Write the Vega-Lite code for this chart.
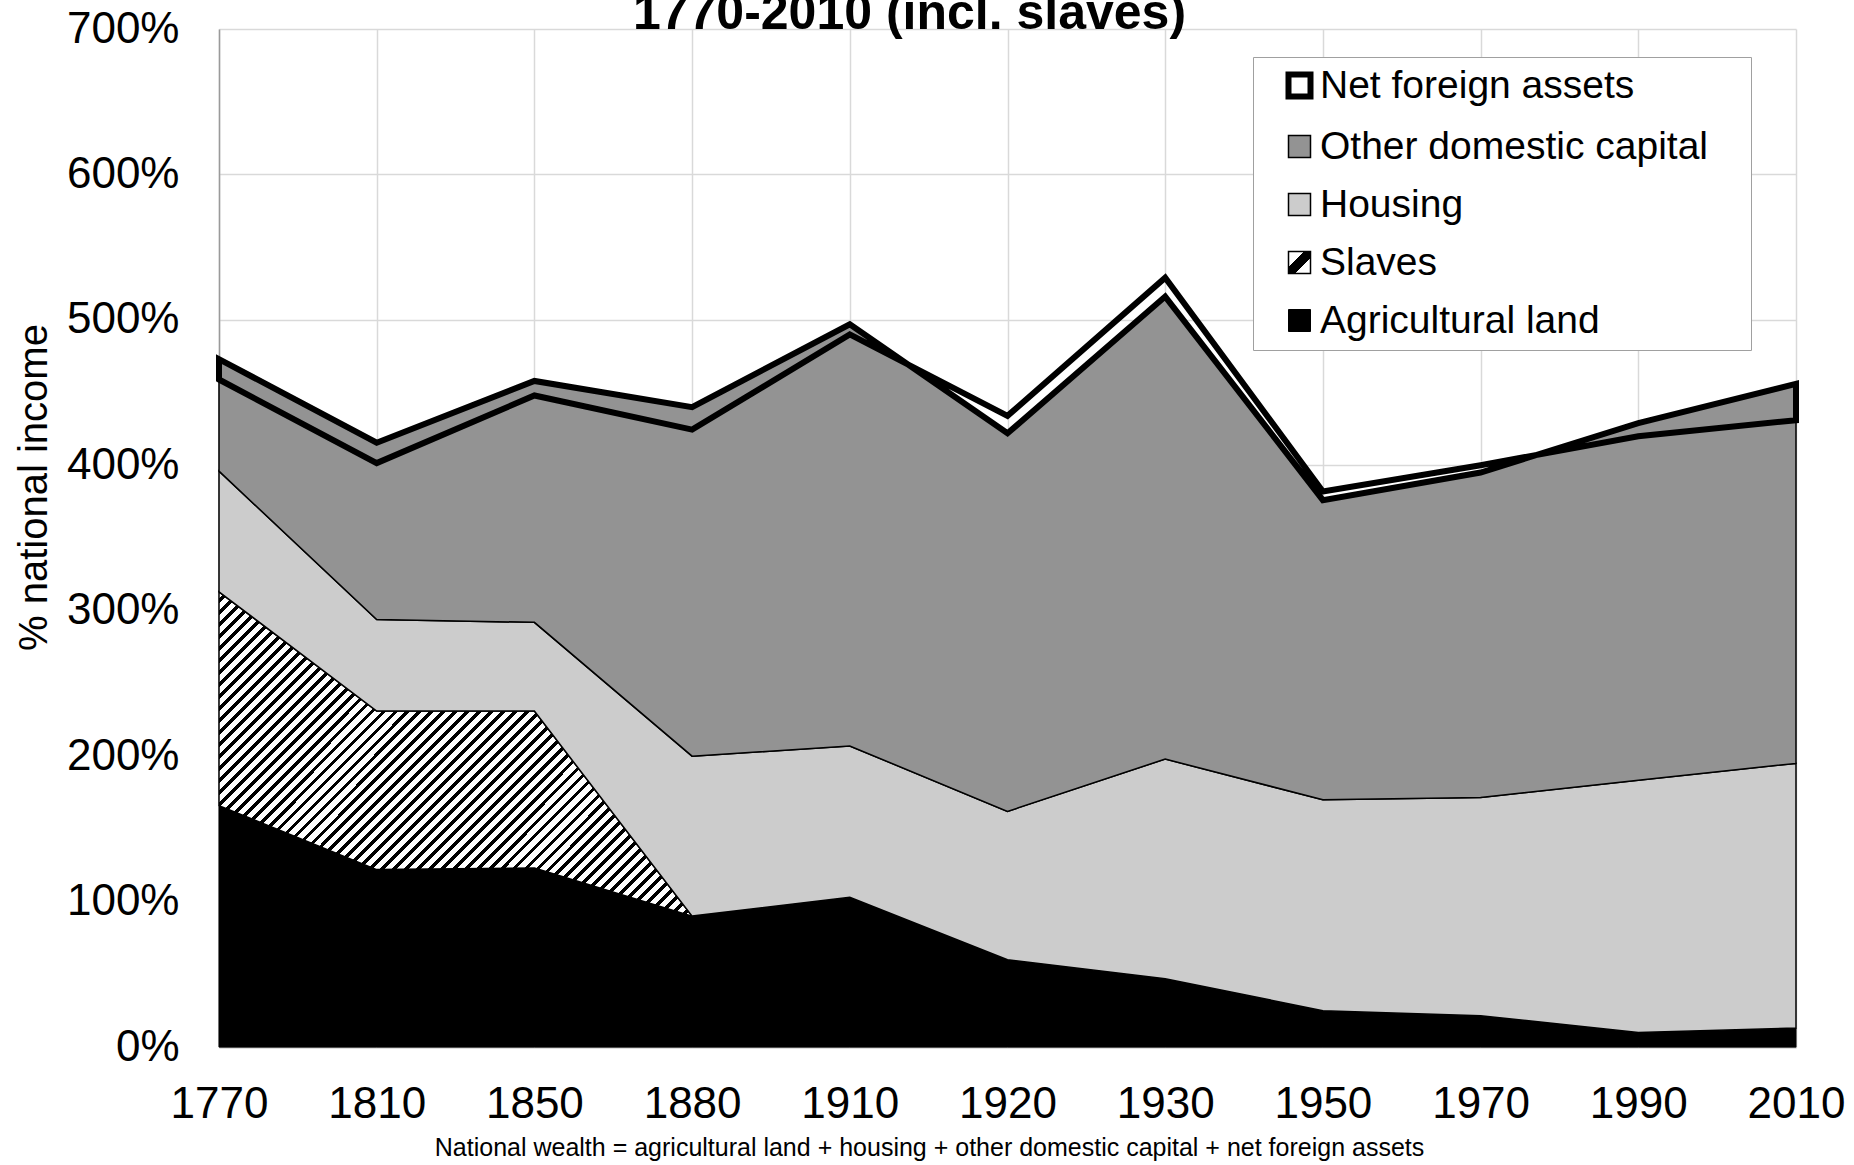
{
  "$schema": "https://vega.github.io/schema/vega-lite/v6.json",
  "width": 1577,
  "height": 1018,
  "autosize": {"type": "none"},
  "padding": {"left": 219, "top": 29, "right": 58, "bottom": 118},
  "background": "white",
  "title": {
    "text": "1770-2010 (incl. slaves)",
    "font": "Liberation Sans",
    "fontSize": 50,
    "fontWeight": "bold",
    "color": "black",
    "anchor": "middle",
    "baseline": "alphabetic",
    "offset": -72,
    "dx": -98
  },
  "config": {
    "view": {"stroke": null},
    "font": "Liberation Sans"
  },
  "data": {
    "values": [
      {"year": "1770", "series": "Agricultural land", "value": 166},
      {"year": "1770", "series": "Slaves", "value": 147},
      {"year": "1770", "series": "Housing", "value": 83},
      {"year": "1770", "series": "Other domestic capital", "value": 77},
      {"year": "1770", "series": "Net foreign assets", "value": -14},
      {"year": "1810", "series": "Agricultural land", "value": 122},
      {"year": "1810", "series": "Slaves", "value": 109},
      {"year": "1810", "series": "Housing", "value": 63},
      {"year": "1810", "series": "Other domestic capital", "value": 121.5},
      {"year": "1810", "series": "Net foreign assets", "value": -14},
      {"year": "1850", "series": "Agricultural land", "value": 123},
      {"year": "1850", "series": "Slaves", "value": 108},
      {"year": "1850", "series": "Housing", "value": 61},
      {"year": "1850", "series": "Other domestic capital", "value": 166},
      {"year": "1850", "series": "Net foreign assets", "value": -10},
      {"year": "1880", "series": "Agricultural land", "value": 90},
      {"year": "1880", "series": "Slaves", "value": 0},
      {"year": "1880", "series": "Housing", "value": 110},
      {"year": "1880", "series": "Other domestic capital", "value": 240},
      {"year": "1880", "series": "Net foreign assets", "value": -15.5},
      {"year": "1910", "series": "Agricultural land", "value": 103},
      {"year": "1910", "series": "Housing", "value": 104},
      {"year": "1910", "series": "Other domestic capital", "value": 290},
      {"year": "1910", "series": "Net foreign assets", "value": -7},
      {"year": "1920", "series": "Agricultural land", "value": 60},
      {"year": "1920", "series": "Housing", "value": 102},
      {"year": "1920", "series": "Other domestic capital", "value": 260},
      {"year": "1920", "series": "Net foreign assets", "value": 12},
      {"year": "1930", "series": "Agricultural land", "value": 47},
      {"year": "1930", "series": "Housing", "value": 151},
      {"year": "1930", "series": "Other domestic capital", "value": 318},
      {"year": "1930", "series": "Net foreign assets", "value": 13},
      {"year": "1950", "series": "Agricultural land", "value": 25},
      {"year": "1950", "series": "Housing", "value": 145},
      {"year": "1950", "series": "Other domestic capital", "value": 206},
      {"year": "1950", "series": "Net foreign assets", "value": 6},
      {"year": "1970", "series": "Agricultural land", "value": 21.5},
      {"year": "1970", "series": "Housing", "value": 150},
      {"year": "1970", "series": "Other domestic capital", "value": 223.5},
      {"year": "1970", "series": "Net foreign assets", "value": 5},
      {"year": "1990", "series": "Agricultural land", "value": 10},
      {"year": "1990", "series": "Housing", "value": 173.5},
      {"year": "1990", "series": "Other domestic capital", "value": 245.5},
      {"year": "1990", "series": "Net foreign assets", "value": -9},
      {"year": "2010", "series": "Agricultural land", "value": 13},
      {"year": "2010", "series": "Housing", "value": 182},
      {"year": "2010", "series": "Other domestic capital", "value": 261},
      {"year": "2010", "series": "Net foreign assets", "value": -25}
    ]
  },
  "transform": [
    {"window": [{"op": "sum", "field": "value", "as": "top"}], "groupby": ["year"], "frame": [null, 0]},
    {"window": [{"op": "sum", "field": "value", "as": "base"}], "groupby": ["year"], "frame": [null, -1]}
  ],
  "encoding": {
    "x": {
      "field": "year",
      "type": "ordinal",
      "scale": {"type": "point", "padding": 0},
      "axis": {
        "title": "National wealth = agricultural land + housing + other domestic capital + net foreign assets",
        "titleFont": "Liberation Sans",
        "titleFontSize": 25,
        "titleFontWeight": "normal",
        "titleColor": "black",
        "titleX": 710,
        "titleY": 108,
        "titleAlign": "center",
        "titleBaseline": "alphabetic",
        "labelAngle": 0,
        "labelFont": "Liberation Sans",
        "labelFontSize": 44,
        "labelColor": "black",
        "labelBaseline": "alphabetic",
        "labelPadding": 70,
        "ticks": false,
        "tickSize": 0,
        "grid": true,
        "gridColor": "#d9d9d9",
        "gridWidth": 1.5,
        "domainColor": "#9a9a9a",
        "domainWidth": 1.5
      }
    },
    "y": {
      "field": "top",
      "type": "quantitative",
      "stack": null,
      "scale": {"domain": [0, 700], "nice": false},
      "axis": {
        "values": [0, 100, 200, 300, 400, 500, 600, 700],
        "labelExpr": "datum.value + '%'",
        "labelFont": "Liberation Sans",
        "labelFontSize": 44,
        "labelColor": "black",
        "labelPadding": 40,
        "ticks": false,
        "tickSize": 0,
        "grid": true,
        "gridColor": "#d9d9d9",
        "gridWidth": 1.5,
        "domainColor": "#9a9a9a",
        "domainWidth": 1.5,
        "title": "% national income",
        "titleFont": "Liberation Sans",
        "titleFontSize": 40,
        "titleFontWeight": "normal",
        "titleColor": "black",
        "titleAngle": -90,
        "titleX": -173,
        "titleY": 458,
        "titleAlign": "center",
        "titleBaseline": "alphabetic"
      }
    },
    "fill": {
      "field": "series",
      "type": "nominal",
      "scale": {
        "domain": ["Net foreign assets", "Other domestic capital", "Housing", "Slaves", "Agricultural land"],
        "range": ["transparent", "#939393", "#cccccc", {"expr": "{gradient: 'linear', x1: 0, y1: 0, x2: 1, y2: 1, stops: [{offset: 0, color: '#fff'}, {offset: 0.36, color: '#fff'}, {offset: 0.36, color: '#000'}, {offset: 0.64, color: '#000'}, {offset: 0.64, color: '#fff'}, {offset: 1, color: '#fff'}]}"}, "#000000"]
      },
      "legend": {
        "title": " ",
        "titleOrient": "right",
        "titlePadding": 34,
        "titleFontSize": 39,
        "orient": "none",
        "legendX": 1034,
        "legendY": 28,
        "padding": 9,
        "symbolOffset": 18,
        "rowPadding": 18,
        "symbolType": "square",
        "symbolSize": 484,
        "labelFont": "Liberation Sans",
        "labelFontSize": 39,
        "labelColor": "black",
        "labelOffset": 1,
        "labelLimit": 0,
        "strokeColor": "#a0a0a0",
        "fillColor": "white"
      }
    },
    "stroke": {
      "field": "series",
      "type": "nominal",
      "scale": {
        "domain": ["Net foreign assets", "Other domestic capital", "Housing", "Slaves", "Agricultural land"],
        "range": ["#000000", "#000000", "#000000", "#000000", "#000000"]
      },
      "legend": {
        "title": " ",
        "orient": "none"
      }
    },
    "strokeWidth": {
      "field": "series",
      "type": "nominal",
      "scale": {
        "type": "ordinal",
        "domain": ["Net foreign assets", "Other domestic capital", "Housing", "Slaves", "Agricultural land"],
        "range": [6, 1.5, 1.5, 1.5, 1]
      },
      "legend": {
        "title": " ",
        "orient": "none"
      }
    }
  },
  "layer": [
    {
      "transform": [{"filter": "datum.series === 'Agricultural land'"}],
      "mark": {"type": "area"}
    },
    {
      "transform": [{"filter": "datum.series === 'Slaves'"}],
      "mark": {"type": "area"},
      "encoding": {
        "y2": {"field": "base"},
        "fill": {"value": {"gradient": "linear", "x1": 0, "y1": 0, "x2": 1.147, "y2": 0.785, "stops": [
{"offset":0,"color":"#fff"},{"offset":0.009,"color":"#fff"},{"offset":0.009,"color":"#000"},{"offset":0.015,"color":"#000"},
{"offset":0.015,"color":"#fff"},{"offset":0.024,"color":"#fff"},{"offset":0.024,"color":"#000"},{"offset":0.03,"color":"#000"},
{"offset":0.03,"color":"#fff"},{"offset":0.039,"color":"#fff"},{"offset":0.039,"color":"#000"},{"offset":0.045,"color":"#000"},
{"offset":0.045,"color":"#fff"},{"offset":0.054,"color":"#fff"},{"offset":0.054,"color":"#000"},{"offset":0.06,"color":"#000"},
{"offset":0.06,"color":"#fff"},{"offset":0.069,"color":"#fff"},{"offset":0.069,"color":"#000"},{"offset":0.075,"color":"#000"},
{"offset":0.075,"color":"#fff"},{"offset":0.084,"color":"#fff"},{"offset":0.084,"color":"#000"},{"offset":0.09,"color":"#000"},
{"offset":0.09,"color":"#fff"},{"offset":0.099,"color":"#fff"},{"offset":0.099,"color":"#000"},{"offset":0.105,"color":"#000"},
{"offset":0.105,"color":"#fff"},{"offset":0.114,"color":"#fff"},{"offset":0.114,"color":"#000"},{"offset":0.12,"color":"#000"},
{"offset":0.12,"color":"#fff"},{"offset":0.129,"color":"#fff"},{"offset":0.129,"color":"#000"},{"offset":0.135,"color":"#000"},
{"offset":0.135,"color":"#fff"},{"offset":0.144,"color":"#fff"},{"offset":0.144,"color":"#000"},{"offset":0.15,"color":"#000"},
{"offset":0.15,"color":"#fff"},{"offset":0.159,"color":"#fff"},{"offset":0.159,"color":"#000"},{"offset":0.165,"color":"#000"},
{"offset":0.165,"color":"#fff"},{"offset":0.174,"color":"#fff"},{"offset":0.174,"color":"#000"},{"offset":0.18,"color":"#000"},
{"offset":0.18,"color":"#fff"},{"offset":0.189,"color":"#fff"},{"offset":0.189,"color":"#000"},{"offset":0.195,"color":"#000"},
{"offset":0.195,"color":"#fff"},{"offset":0.204,"color":"#fff"},{"offset":0.204,"color":"#000"},{"offset":0.21,"color":"#000"},
{"offset":0.21,"color":"#fff"},{"offset":0.219,"color":"#fff"},{"offset":0.219,"color":"#000"},{"offset":0.225,"color":"#000"},
{"offset":0.225,"color":"#fff"},{"offset":0.234,"color":"#fff"},{"offset":0.234,"color":"#000"},{"offset":0.24,"color":"#000"},
{"offset":0.24,"color":"#fff"},{"offset":0.249,"color":"#fff"},{"offset":0.249,"color":"#000"},{"offset":0.255,"color":"#000"},
{"offset":0.255,"color":"#fff"},{"offset":0.264,"color":"#fff"},{"offset":0.264,"color":"#000"},{"offset":0.27,"color":"#000"},
{"offset":0.27,"color":"#fff"},{"offset":0.279,"color":"#fff"},{"offset":0.279,"color":"#000"},{"offset":0.285,"color":"#000"},
{"offset":0.285,"color":"#fff"},{"offset":0.294,"color":"#fff"},{"offset":0.294,"color":"#000"},{"offset":0.3,"color":"#000"},
{"offset":0.3,"color":"#fff"},{"offset":0.309,"color":"#fff"},{"offset":0.309,"color":"#000"},{"offset":0.315,"color":"#000"},
{"offset":0.315,"color":"#fff"},{"offset":0.324,"color":"#fff"},{"offset":0.324,"color":"#000"},{"offset":0.33,"color":"#000"},
{"offset":0.33,"color":"#fff"},{"offset":0.339,"color":"#fff"},{"offset":0.339,"color":"#000"},{"offset":0.345,"color":"#000"},
{"offset":0.345,"color":"#fff"},{"offset":0.354,"color":"#fff"},{"offset":0.354,"color":"#000"},{"offset":0.36,"color":"#000"},
{"offset":0.36,"color":"#fff"},{"offset":0.369,"color":"#fff"},{"offset":0.369,"color":"#000"},{"offset":0.375,"color":"#000"},
{"offset":0.375,"color":"#fff"},{"offset":0.384,"color":"#fff"},{"offset":0.384,"color":"#000"},{"offset":0.39,"color":"#000"},
{"offset":0.39,"color":"#fff"},{"offset":0.399,"color":"#fff"},{"offset":0.399,"color":"#000"},{"offset":0.405,"color":"#000"},
{"offset":0.405,"color":"#fff"},{"offset":0.414,"color":"#fff"},{"offset":0.414,"color":"#000"},{"offset":0.42,"color":"#000"},
{"offset":0.42,"color":"#fff"},{"offset":0.429,"color":"#fff"},{"offset":0.429,"color":"#000"},{"offset":0.435,"color":"#000"},
{"offset":0.435,"color":"#fff"},{"offset":0.444,"color":"#fff"},{"offset":0.444,"color":"#000"},{"offset":0.45,"color":"#000"},
{"offset":0.45,"color":"#fff"},{"offset":0.459,"color":"#fff"},{"offset":0.459,"color":"#000"},{"offset":0.465,"color":"#000"},
{"offset":0.465,"color":"#fff"},{"offset":0.474,"color":"#fff"},{"offset":0.474,"color":"#000"},{"offset":0.48,"color":"#000"},
{"offset":0.48,"color":"#fff"},{"offset":0.489,"color":"#fff"},{"offset":0.489,"color":"#000"},{"offset":0.495,"color":"#000"},
{"offset":0.495,"color":"#fff"},{"offset":0.504,"color":"#fff"},{"offset":0.504,"color":"#000"},{"offset":0.51,"color":"#000"},
{"offset":0.51,"color":"#fff"},{"offset":0.519,"color":"#fff"},{"offset":0.519,"color":"#000"},{"offset":0.525,"color":"#000"},
{"offset":0.525,"color":"#fff"},{"offset":0.534,"color":"#fff"},{"offset":0.534,"color":"#000"},{"offset":0.54,"color":"#000"},
{"offset":0.54,"color":"#fff"},{"offset":0.549,"color":"#fff"},{"offset":0.549,"color":"#000"},{"offset":0.555,"color":"#000"},
{"offset":0.555,"color":"#fff"},{"offset":0.564,"color":"#fff"},{"offset":0.564,"color":"#000"},{"offset":0.57,"color":"#000"},
{"offset":0.57,"color":"#fff"},{"offset":0.579,"color":"#fff"},{"offset":0.579,"color":"#000"},{"offset":0.585,"color":"#000"},
{"offset":0.585,"color":"#fff"},{"offset":0.594,"color":"#fff"},{"offset":0.594,"color":"#000"},{"offset":0.6,"color":"#000"},
{"offset":0.6,"color":"#fff"},{"offset":0.609,"color":"#fff"},{"offset":0.609,"color":"#000"},{"offset":0.615,"color":"#000"},
{"offset":0.615,"color":"#fff"},{"offset":0.624,"color":"#fff"},{"offset":0.624,"color":"#000"},{"offset":0.63,"color":"#000"},
{"offset":0.63,"color":"#fff"},{"offset":0.639,"color":"#fff"},{"offset":0.639,"color":"#000"},{"offset":0.645,"color":"#000"},
{"offset":0.645,"color":"#fff"},{"offset":0.654,"color":"#fff"},{"offset":0.654,"color":"#000"},{"offset":0.66,"color":"#000"},
{"offset":0.66,"color":"#fff"},{"offset":0.669,"color":"#fff"},{"offset":0.669,"color":"#000"},{"offset":0.675,"color":"#000"},
{"offset":0.675,"color":"#fff"},{"offset":0.684,"color":"#fff"},{"offset":0.684,"color":"#000"},{"offset":0.69,"color":"#000"},
{"offset":0.69,"color":"#fff"},{"offset":0.699,"color":"#fff"},{"offset":0.699,"color":"#000"},{"offset":0.705,"color":"#000"},
{"offset":0.705,"color":"#fff"},{"offset":0.714,"color":"#fff"},{"offset":0.714,"color":"#000"},{"offset":0.72,"color":"#000"},
{"offset":0.72,"color":"#fff"},{"offset":0.729,"color":"#fff"},{"offset":0.729,"color":"#000"},{"offset":0.735,"color":"#000"},
{"offset":0.735,"color":"#fff"},{"offset":0.744,"color":"#fff"},{"offset":0.744,"color":"#000"},{"offset":0.75,"color":"#000"},
{"offset":0.75,"color":"#fff"},{"offset":0.759,"color":"#fff"},{"offset":0.759,"color":"#000"},{"offset":0.765,"color":"#000"},
{"offset":0.765,"color":"#fff"},{"offset":0.774,"color":"#fff"},{"offset":0.774,"color":"#000"},{"offset":0.78,"color":"#000"},
{"offset":0.78,"color":"#fff"},{"offset":0.789,"color":"#fff"},{"offset":0.789,"color":"#000"},{"offset":0.795,"color":"#000"},
{"offset":0.795,"color":"#fff"},{"offset":0.804,"color":"#fff"},{"offset":0.804,"color":"#000"},{"offset":0.81,"color":"#000"},
{"offset":0.81,"color":"#fff"},{"offset":0.819,"color":"#fff"},{"offset":0.819,"color":"#000"},{"offset":0.825,"color":"#000"},
{"offset":0.825,"color":"#fff"},{"offset":0.834,"color":"#fff"},{"offset":0.834,"color":"#000"},{"offset":0.84,"color":"#000"},
{"offset":0.84,"color":"#fff"},{"offset":0.849,"color":"#fff"},{"offset":0.849,"color":"#000"},{"offset":0.855,"color":"#000"},
{"offset":0.855,"color":"#fff"},{"offset":0.864,"color":"#fff"},{"offset":0.864,"color":"#000"},{"offset":0.87,"color":"#000"},
{"offset":0.87,"color":"#fff"},{"offset":0.879,"color":"#fff"},{"offset":0.879,"color":"#000"},{"offset":0.885,"color":"#000"},
{"offset":0.885,"color":"#fff"},{"offset":0.894,"color":"#fff"},{"offset":0.894,"color":"#000"},{"offset":0.9,"color":"#000"},
{"offset":0.9,"color":"#fff"},{"offset":0.909,"color":"#fff"},{"offset":0.909,"color":"#000"},{"offset":0.915,"color":"#000"},
{"offset":0.915,"color":"#fff"},{"offset":0.924,"color":"#fff"},{"offset":0.924,"color":"#000"},{"offset":0.93,"color":"#000"},
{"offset":0.93,"color":"#fff"},{"offset":0.939,"color":"#fff"},{"offset":0.939,"color":"#000"},{"offset":0.945,"color":"#000"},
{"offset":0.945,"color":"#fff"},{"offset":0.954,"color":"#fff"},{"offset":0.954,"color":"#000"},{"offset":0.96,"color":"#000"},
{"offset":0.96,"color":"#fff"},{"offset":0.969,"color":"#fff"},{"offset":0.969,"color":"#000"},{"offset":0.975,"color":"#000"},
{"offset":0.975,"color":"#fff"},{"offset":0.984,"color":"#fff"},{"offset":0.984,"color":"#000"},{"offset":0.99,"color":"#000"},
{"offset":0.99,"color":"#fff"},{"offset":0.999,"color":"#fff"},{"offset":0.999,"color":"#000"},{"offset":1,"color":"#000"}
        ]}}
      }
    },
    {
      "transform": [{"filter": "datum.series === 'Housing'"}],
      "mark": {"type": "area"},
      "encoding": {"y2": {"field": "base"}}
    },
    {
      "transform": [{"filter": "datum.series === 'Other domestic capital'"}],
      "mark": {"type": "area"},
      "encoding": {"y2": {"field": "base"}}
    },
    {
      "transform": [{"filter": "datum.series === 'Net foreign assets'"}],
      "mark": {"type": "area", "strokeJoin": "miter"},
      "encoding": {"y2": {"field": "base"}}
    }
  ]
}
